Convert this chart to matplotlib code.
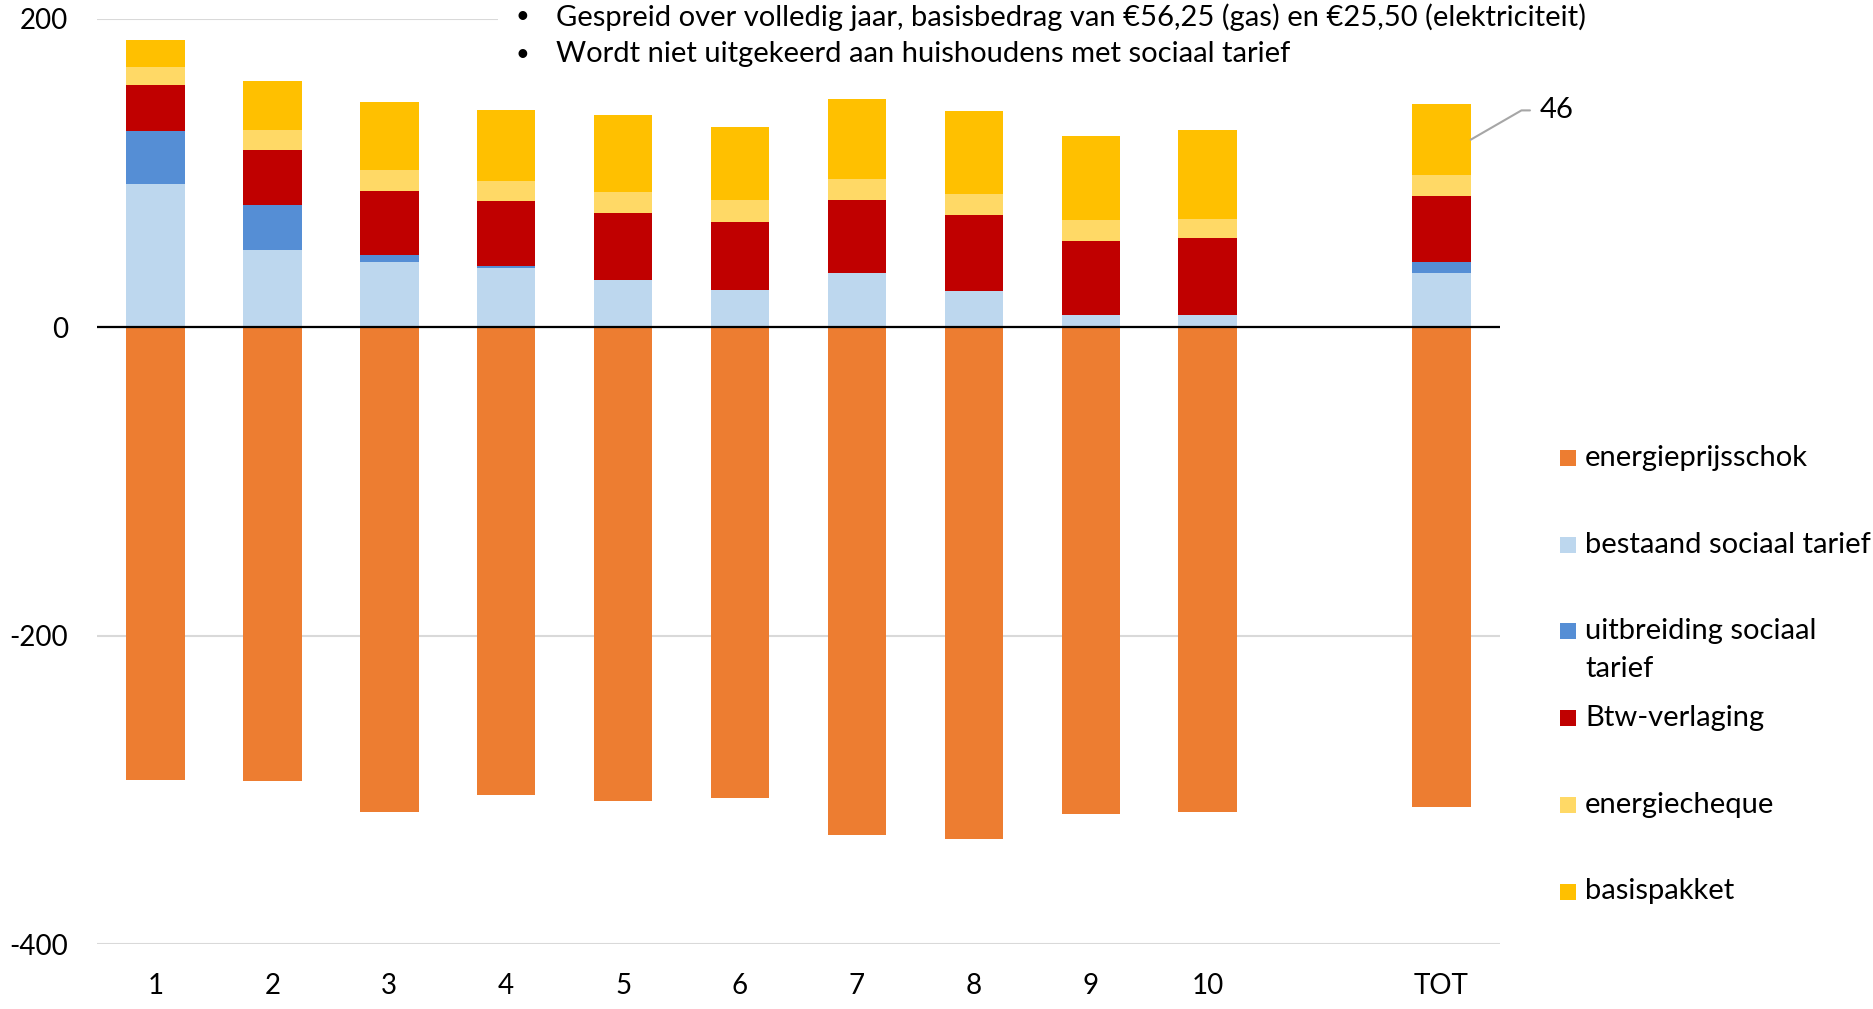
import matplotlib
matplotlib.use("Agg")
import matplotlib.pyplot as plt
from matplotlib.patches import Rectangle
import numpy as np

plt.rcParams["font.family"] = ["Lato", "DejaVu Sans"]

# data (euro per household)
categories = ["1", "2", "3", "4", "5", "6", "7", "8", "9", "10", "TOT"]
energieprijsschok = [-293.8, -294.5, -314.6, -303.5, -307.2, -305.3, -329.2, -332.1, -315.6, -314.3, -311.1]
bestaand_sociaal = [92.7, 50.1, 42.1, 38.2, 30.5, 24.0, 35.2, 23.3, 7.8, 8.2, 35.2]
uitbreiding_sociaal = [34.7, 29.0, 5.0, 1.3, 0.0, 0.0, 0.0, 0.0, 0.0, 0.0, 7.1]
btw_verlaging = [29.6, 35.8, 41.0, 42.2, 43.6, 44.2, 47.3, 49.7, 47.9, 49.9, 43.0]
energiecheque = [12.1, 13.0, 13.8, 13.1, 13.8, 14.3, 13.6, 13.4, 13.8, 12.1, 13.4]
basispakket = [17.3, 31.9, 44.1, 46.0, 49.5, 47.3, 52.3, 53.8, 54.9, 57.7, 46.0]

labels = ["energieprijsschok", "bestaand sociaal tarief", "uitbreiding sociaal\ntarief",
          "Btw-verlaging", "energiecheque", "basispakket"]
colors = ["#ED7D31", "#BDD7EE", "#558ED5", "#C00000", "#FFD966", "#FFC000"]

notes = ["Gespreid over volledig jaar, basisbedrag van €56,25 (gas) en €25,50 (elektriciteit)",
         "Wordt niet uitgekeerd aan huishoudens met sociaal tarief"]

fig = plt.figure(figsize=(18.74, 10.09), dpi=100)
ax = fig.add_axes([0.0518, 0.0644, 0.7486, 0.9168])

# positions: 1..10, gap, TOT
x = np.array(list(range(1, 11)) + [12])
w = 0.5

ax.bar(x, energieprijsschok, w, color=colors[0], zorder=2)
bottom = np.zeros(len(x))
for vals, c in zip([bestaand_sociaal, uitbreiding_sociaal, btw_verlaging, energiecheque, basispakket], colors[1:]):
    ax.bar(x, vals, w, bottom=bottom, color=c, zorder=2)
    bottom = bottom + np.array(vals)

ax.set_xlim(0.5, 12.5)
ax.set_ylim(-400, 200)
ax.set_yticks([-400, -200, 0, 200])
ax.set_yticklabels(["-400", "-200", "0", "200"])
ax.set_xticks(x)
ax.set_xticklabels(categories)
ax.tick_params(length=0, labelsize=20)
ax.tick_params(axis="x", pad=21)
ax.tick_params(axis="y", pad=21)
for s in ax.spines.values():
    s.set_visible(False)
ax.grid(axis="y", color="#d9d9d9", linewidth=1.5, zorder=0)
ax.axhline(0, color="black", linewidth=1.6, zorder=3)

# label for basispakket TOT
tot_mid = bottom[-1] - basispakket[-1] / 2
ax.annotate(str(round(basispakket[-1])), xy=(x[-1] + w / 2, tot_mid),
            xytext=(x[-1] + 0.84, tot_mid + 19), fontsize=21, va="center",
            annotation_clip=False,
            arrowprops=dict(arrowstyle="-", color="#a6a6a6", lw=1.5,
                            connectionstyle="angle,angleA=0,angleB=30,rad=0",
                            shrinkA=5, shrinkB=0))

# notes box over top gridline
fig.patches.append(Rectangle((0.2657, 0.925), 0.6, 0.075, transform=fig.transFigure,
                             facecolor="white", edgecolor="none", zorder=1))
for i, t in enumerate(notes):
    yy = 1 - (17 + 37 * i) / 1009
    fig.text(516 / 1874, yy, "•", fontsize=17, va="center", ha="left")
    fig.text(556 / 1874, yy, t, fontsize=21, va="center", ha="left")

# legend drawn by hand so the wrapped entry keeps its marker on the first line
for i, (lab, c) in enumerate(zip(labels, colors)):
    yy = 1 - (458 + 86.7 * i) / 1009
    fig.patches.append(Rectangle((1560 / 1874, yy - 8 / 1009), 16 / 1874, 16 / 1009,
                                 transform=fig.transFigure, facecolor=c, edgecolor="none"))
    for k, line in enumerate(lab.split("\n")):
        fig.text(1585 / 1874, yy - 38 * k / 1009, line, fontsize=21, va="center", ha="left")

fig.savefig("out.png", dpi=100)
